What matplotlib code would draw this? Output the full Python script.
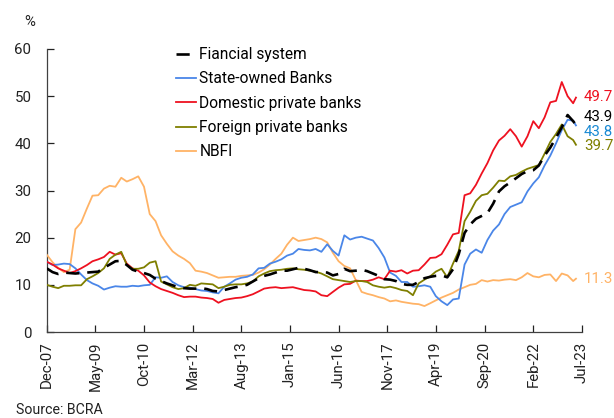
import matplotlib
matplotlib.use("Agg")
import matplotlib.pyplot as plt
import matplotlib.dates as mdates
import matplotlib.transforms as mtransforms
from matplotlib.lines import Line2D
import pandas as pd

plt.rcParams["font.family"] = ["Roboto", "DejaVu Sans"]

# Bi-monthly observations, Dec-2007 to Apr-2023, plus the latest month (May-2023)
dates = list(pd.date_range("2007-12-01", "2023-04-01", freq="2MS")) + [pd.Timestamp("2023-05-01")]

financial_system = [
    13.5, 12.7, 12.3, 12.6, 12.5, 12.4, 12.5, 12.6, 12.7, 12.8,
    13.6, 14.3, 15.0, 15.1, 14.2, 13.2, 12.8, 12.5, 12.1, 11.3,
    10.8, 10.3, 9.9, 9.5, 9.3, 9.2, 9.2, 9.3, 9.1, 8.7,
    8.6, 8.9, 9.2, 9.5, 9.7, 10.0, 10.7, 11.4, 11.9, 12.2,
    12.6, 13.0, 13.0, 13.3, 13.6, 13.4, 13.1, 12.7, 12.7, 12.6,
    12.0, 12.3, 13.4, 12.9, 13.0, 13.2, 12.9, 12.4, 11.9, 11.2,
    11.1, 10.8, 10.2, 10.0, 10.0, 10.6, 11.4, 11.7, 11.9, 12.0,
    11.6, 13.3, 16.5, 21.0, 22.8, 24.0, 24.6, 25.2, 27.2, 29.8,
    30.9, 31.7, 32.6, 33.5, 34.1, 34.3, 35.3, 37.4, 39.1, 41.2,
    43.4, 46.0, 44.7, 43.9,
]
state_owned = [
    14.9, 14.2, 14.3, 14.5, 14.4, 13.5, 12.2, 11.0, 10.3, 9.8,
    9.0, 9.4, 9.7, 9.6, 9.6, 9.8, 9.7, 9.9, 10.0, 11.6,
    11.5, 11.8, 10.6, 9.9, 9.5, 9.4, 9.1, 8.8, 8.7, 8.4,
    8.2, 9.6, 10.3, 11.1, 11.5, 11.7, 12.2, 13.5, 13.6, 14.5,
    14.9, 15.4, 16.2, 16.6, 17.6, 17.4, 17.3, 17.6, 17.0, 18.6,
    17.2, 16.2, 20.5, 19.6, 20.0, 20.2, 19.8, 19.4, 17.8, 15.8,
    12.6, 11.9, 10.6, 10.6, 9.6, 9.7, 9.9, 9.6, 7.6, 6.5,
    5.7, 6.9, 7.1, 14.3, 16.6, 17.5, 16.8, 19.5, 21.5, 22.8,
    25.0, 26.5, 27.0, 27.5, 29.8, 31.5, 32.8, 35.3, 37.4, 40.0,
    42.8, 45.0, 44.8, 43.8,
]
domestic_private = [
    14.9, 14.3, 13.5, 13.0, 12.5, 12.9, 13.5, 14.2, 15.0, 15.4,
    15.9, 17.0, 16.4, 16.7, 14.5, 13.5, 13.0, 12.0, 10.5, 9.7,
    9.1, 8.7, 8.3, 7.8, 7.4, 7.5, 7.5, 7.3, 7.2, 7.0,
    6.2, 6.8, 7.0, 7.2, 7.3, 7.6, 8.0, 8.6, 9.2, 9.4,
    9.5, 9.3, 9.4, 9.5, 9.2, 8.9, 8.8, 8.6, 7.8, 7.6,
    8.5, 9.4, 10.1, 10.2, 10.9, 10.8, 10.8, 11.1, 11.6, 11.2,
    13.0, 12.8, 13.1, 12.4, 13.0, 13.1, 14.3, 15.7, 15.8, 16.5,
    18.5, 20.7, 21.0, 29.0, 29.4, 31.2, 33.6, 35.8, 38.5, 40.6,
    41.6, 43.0, 41.5, 39.3, 41.5, 44.7, 43.2, 45.5, 48.7, 49.0,
    53.0, 50.0, 48.5, 49.7,
]
foreign_private = [
    10.0, 9.6, 9.3, 9.8, 9.8, 9.9, 9.9, 11.2, 11.8, 12.5,
    13.5, 15.5, 16.4, 17.0, 14.2, 13.4, 13.4, 13.7, 14.7, 15.0,
    10.7, 10.1, 9.5, 9.1, 9.3, 10.0, 9.8, 10.3, 10.2, 10.1,
    9.3, 9.6, 10.0, 10.1, 10.1, 10.3, 10.7, 11.8, 12.4, 12.9,
    13.1, 13.2, 13.4, 13.5, 13.3, 13.2, 13.0, 12.8, 12.4, 11.8,
    11.2, 11.0, 10.8, 10.6, 10.8, 10.8, 10.6, 9.9, 9.6, 9.4,
    9.6, 9.3, 8.9, 8.7, 7.8, 10.3, 11.1, 11.8, 12.8, 13.4,
    11.6, 14.5, 17.2, 23.5, 25.5, 27.8, 29.0, 29.3, 30.6, 32.1,
    32.0, 33.0, 33.3, 34.0, 34.6, 35.0, 35.4, 37.8, 40.3, 42.0,
    44.0, 41.5, 40.7, 39.7,
]
nbfi = [
    16.4, 14.8, 13.6, 12.7, 13.2, 21.8, 23.2, 26.2, 28.9, 29.0,
    30.4, 31.0, 30.8, 32.7, 31.9, 32.4, 33.0, 30.8, 25.0, 23.5,
    20.5, 18.7, 17.1, 16.2, 15.5, 14.6, 13.0, 12.8, 12.5, 12.0,
    11.5, 11.6, 11.7, 11.7, 11.9, 12.0, 12.1, 12.6, 13.3, 14.3,
    15.5, 16.6, 18.5, 20.0, 19.3, 19.5, 19.7, 20.0, 19.7, 19.0,
    16.8, 15.0, 14.0, 13.5, 11.0, 8.5, 8.1, 7.8, 7.4, 7.1,
    6.5, 6.7, 6.4, 6.2, 6.0, 5.9, 5.5, 6.1, 6.7, 7.3,
    7.8, 8.3, 9.0, 9.5, 10.0, 10.2, 11.0, 10.7, 11.0, 10.9,
    11.1, 11.2, 11.0, 11.6, 12.5, 11.8, 11.6, 12.1, 12.2, 10.8,
    12.4, 12.0, 10.8, 11.3,
]

series_names = ["Fiancial system", "State-owned Banks", "Domestic private banks",
                "Foreign private banks", "NBFI"]
line_colors = ["#000000", "#4a86e8", "#ee1120", "#7f7f00", "#ffb366"]
label_colors = ["#000000", "#1a8ad4", "#ee1120", "#7f7f00", "#ffb366"]
label_y = [45.6, 42.4, 49.9, 39.5, 11.2]

x_ticks = list(pd.date_range("2007-12-01", "2023-07-01", freq="17MS"))

W, H = 614, 418
fig = plt.figure(figsize=(W / 100, H / 100), dpi=100)
ax = fig.add_axes([46.7 / W, 1 - 332 / H, (581.7 - 46.7) / W, (332 - 49) / H])

all_series = [financial_system, state_owned, domestic_private, foreign_private, nbfi]
draw_order = [4, 1, 2, 3, 0]
for i in draw_order:
    if i == 0:
        ax.plot(dates, all_series[i], color=line_colors[i], lw=1.9,
                dashes=(5, 3), zorder=5)
    else:
        ax.plot(dates, all_series[i], color=line_colors[i], lw=1.3, zorder=3)

# legend keys: a single dash for the total, plain strokes for the groups
legend_keys = [Line2D([], [], color=line_colors[0], lw=1.9, dashes=(5, 10))]
legend_keys += [Line2D([], [], color=line_colors[i], lw=1.3) for i in range(1, 5)]

# end-of-series value labels
trans = mtransforms.blended_transform_factory(ax.transAxes, ax.transData)
for i in range(5):
    ax.text(1.004, label_y[i], f"{all_series[i][-1]:.1f}", color=label_colors[i],
            fontsize=10.8, ha="left", va="center", transform=trans, clip_on=False)

ax.set_ylim(0, 60)
ax.set_yticks(range(0, 61, 10))
ax.set_xlim(x_ticks[0], x_ticks[-1])
ax.set_xticks(x_ticks)
ax.xaxis.set_major_formatter(mdates.DateFormatter("%b-%y"))
ax.tick_params(axis="x", direction="in", length=5, width=0.9, rotation=90,
               labelsize=10.8, pad=7, colors="#222222")
ax.tick_params(axis="y", direction="in", length=5, width=0.9,
               labelsize=10.8, pad=11, colors="#222222")
for s in ["top", "right"]:
    ax.spines[s].set_visible(False)
for s in ["left", "bottom"]:
    ax.spines[s].set_color("#404040")
    ax.spines[s].set_linewidth(0.9)

ax.legend(legend_keys, series_names,
          loc="upper left", bbox_to_anchor=(176 / W, 1 - 47 / H),
          bbox_transform=fig.transFigure, frameon=False, fontsize=11.2,
          handlelength=1.3, handletextpad=0.2, labelspacing=0.6,
          borderpad=0, borderaxespad=0)

fig.text(30 / W, 1 - 22 / H, "%", fontsize=10.8, ha="center", va="center", color="#222222")
fig.text(16 / W, 1 - 410 / H, "Source: BCRA", fontsize=10.2, ha="left", va="center", color="#222222")

fig.savefig("out.png", dpi=100)
